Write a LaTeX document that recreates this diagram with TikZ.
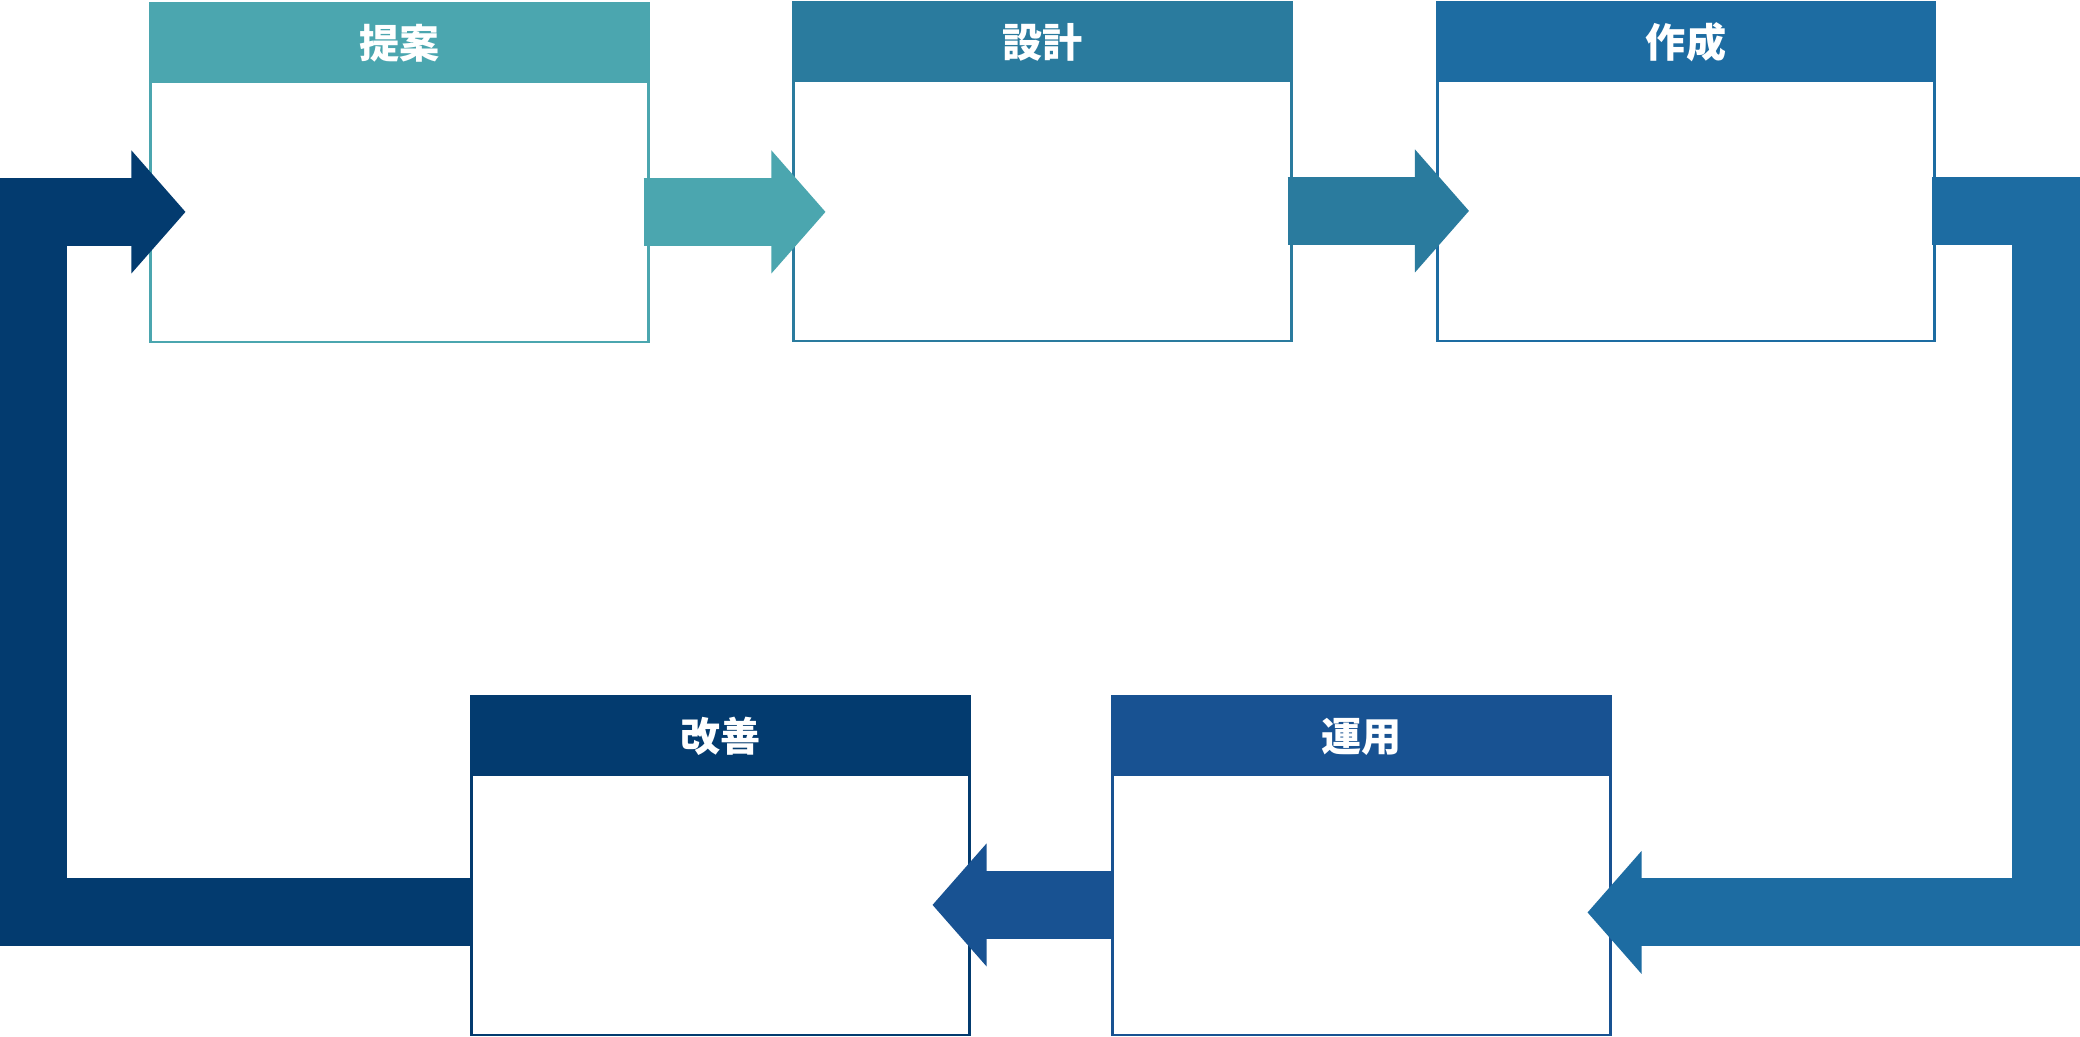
\documentclass[tikz,border=0pt]{standalone}
\usepackage{fontspec}
\newfontfamily\jpfont{Noto Sans CJK JP}
\usetikzlibrary{calc, positioning}
\definecolor{teianc}{HTML}{4BA6AF}
\definecolor{sekkeic}{HTML}{2A7B9E}
\definecolor{sakuseic}{HTML}{1D6CA2}
\definecolor{unyouc}{HTML}{185292}
\definecolor{kaizenc}{HTML}{033B6F}
\def\rhead#1#2{\fill[#1] ($(#2)+(-54,-61.5)$) -- (#2) -- ($(#2)+(-54,61.5)$) -- cycle;}
\def\lhead#1#2{\fill[#1] ($(#2)+(54,-61.5)$) -- (#2) -- ($(#2)+(54,61.5)$) -- cycle;}

\begin{document}
\begin{tikzpicture}[x=0.01cm, y=-0.01cm,
    hd/.style={fill=#1, draw=#1, line width=0.8pt, text=white, minimum width=4.97cm, minimum height=0.76cm, inner sep=0pt, text height=0.4cm, text depth=0.05cm, font=\jpfont\bfseries\fontsize{11.4pt}{13pt}\selectfont},
    bd/.style={draw=#1, fill=white, line width=0.8pt, minimum width=4.97cm, minimum height=2.6cm, inner sep=0pt},
    band/.style={line width=0.68cm, line join=miter}]
    \useasboundingbox[fill=white] (0,0) rectangle (2080,1036);
    \node[hd=teianc] (teianhd) at (399.5,41) {提案};
    \node[bd=teianc, below=0pt of teianhd] (teian) {};
    \node[hd=sekkeic] (sekkeihd) at (1042.5,40) {設計};
    \node[bd=sekkeic, below=0pt of sekkeihd] (sekkei) {};
    \node[hd=sakuseic] (sakuseihd) at (1686,40) {作成};
    \node[bd=sakuseic, below=0pt of sakuseihd] (sakusei) {};
    \node[hd=unyouc] (unyouhd) at (1361.5,734) {運用};
    \node[bd=unyouc, below=0pt of unyouhd] (unyou) {};
    \node[hd=kaizenc] (kaizenhd) at (720.5,734) {改善};
    \node[bd=kaizenc, below=0pt of kaizenhd] (kaizen) {};

    \coordinate (a1) at ($(teian.east)+(-6,0)$);
    \coordinate (a0) at (sekkei.west |- a1);
    \coordinate (a2) at ($(a0)+(33,0)$);
    \draw[band, teianc] (a1) -- ($(a2)+(-52,0)$);
    \rhead{teianc}{a2}
    \coordinate (b1) at ($(sekkei.east)+(-5,0)$);
    \coordinate (b0) at (sakusei.west |- b1);
    \coordinate (b2) at ($(b0)+(33,0)$);
    \draw[band, sekkeic] (b1) -- ($(b2)+(-52,0)$);
    \rhead{sekkeic}{b2}

    \coordinate (c1) at ($(sakusei.east)+(-4,0)$);
    \coordinate (c2) at ($(unyou.east)+(-24,7.5)$);
    \coordinate (ck1) at (c1 -| 2046,0);
    \coordinate (ck2) at (c2 -| 2046,0);
    \draw[band, sakuseic] (c1) -- (ck1) -- (ck2) -- ($(c2)+(52,0)$);
    \lhead{sakuseic}{c2}

    \coordinate (d1) at ($(unyou.west)+(2,0)$);
    \coordinate (d2) at ($(kaizen.east)+(-38,0)$);
    \draw[band, unyouc] (d1) -- ($(d2)+(52,0)$);
    \lhead{unyouc}{d2}

    \coordinate (e1) at ($(kaizen.west)+(2,7)$);
    \coordinate (ek1) at (e1 -| 33,0);
    \coordinate (ek2) at (teian.west -| 33,0);
    \coordinate (e2) at ($(teian.west)+(36,0)$);
    \draw[band, kaizenc] (e1) -- (ek1) -- (ek2) -- ($(e2)+(-52,0)$);
    \rhead{kaizenc}{e2}
\end{tikzpicture}
\end{document}
